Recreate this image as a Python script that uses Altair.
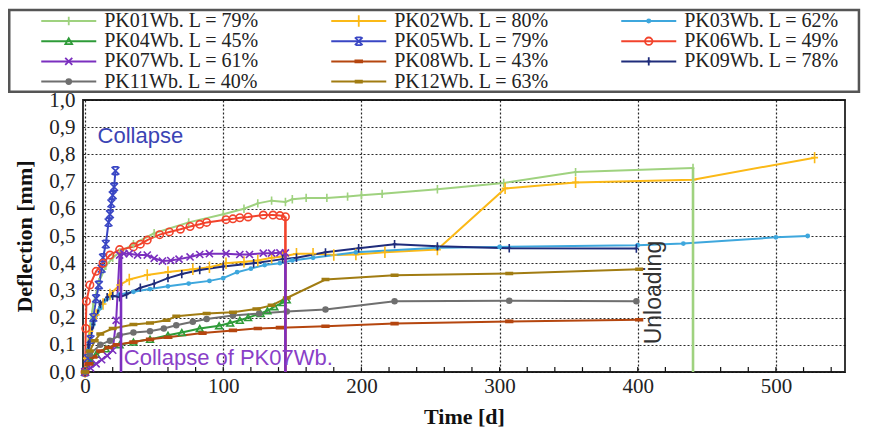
import altair as alt
import pandas as pd

# ---------------- data ----------------
keys = ["PK01", "PK02", "PK03", "PK04", "PK05", "PK06", "PK07", "PK08", "PK09", "PK11", "PK12"]
labels = ["PK01Wb. L = 79%", "PK02Wb. L = 80%", "PK03Wb. L = 62%",
          "PK04Wb. L = 45%", "PK05Wb. L = 79%", "PK06Wb. L = 49%",
          "PK07Wb. L = 61%", "PK08Wb. L = 43%", "PK09Wb. L = 78%",
          "PK11Wb. L = 40%", "PK12Wb. L = 63%"]
colors = ["#9fd27f", "#fbb917", "#3ea7dd", "#2e9b38", "#3946c4", "#f2432c",
          "#7b2fbf", "#b5460f", "#1f2c7b", "#6f6f6f", "#a17c12"]

pk01_t = [0, 3, 6, 10, 15, 20, 25, 35, 50, 75, 100, 115, 125, 135, 145, 150, 160, 175, 190, 200, 215, 255, 303, 355, 440]
pk01_d = [0, 0.15, 0.25, 0.33, 0.39, 0.42, 0.44, 0.47, 0.51, 0.55, 0.58, 0.60, 0.62, 0.63, 0.625, 0.635, 0.64, 0.64, 0.645, 0.65, 0.655, 0.672, 0.695, 0.735, 0.75]

pk02_t = [0, 1, 3.5, 8, 13, 18, 25, 32, 45, 60, 78, 90, 102, 115, 125, 135, 143, 153, 165, 180, 196, 217, 255, 304, 355, 440, 528]
pk02_d = [0, 0.05, 0.15, 0.21, 0.25, 0.285, 0.32, 0.34, 0.357, 0.368, 0.378, 0.385, 0.40, 0.405, 0.41, 0.42, 0.425, 0.435, 0.435, 0.43, 0.432, 0.44, 0.45, 0.675, 0.697, 0.707, 0.788]

pk03_t = [0, 2, 6, 11, 16, 25, 35, 47, 60, 75, 90, 100, 110, 120, 130, 141, 150, 165, 196, 255, 300, 400, 433, 500, 523]
pk03_d = [0, 0.08, 0.175, 0.235, 0.27, 0.285, 0.295, 0.305, 0.315, 0.325, 0.335, 0.345, 0.367, 0.38, 0.393, 0.40, 0.41, 0.42, 0.44, 0.457, 0.46, 0.466, 0.472, 0.495, 0.50]

pk04_t = [0, 4, 8, 15, 25, 35, 47, 60, 70, 83, 97, 105, 112, 118, 127, 132, 137, 143, 146]
pk04_d = [0, 0.04, 0.065, 0.085, 0.10, 0.11, 0.12, 0.135, 0.145, 0.16, 0.17, 0.18, 0.19, 0.20, 0.215, 0.225, 0.24, 0.255, 0.265]

pk05_t = [0, 2, 4, 6, 8, 10, 12, 13, 15, 17, 18, 19, 20, 21, 22]
pk05_d = [0, 0.05, 0.12, 0.20, 0.27, 0.32, 0.38, 0.42, 0.47, 0.55, 0.58, 0.62, 0.65, 0.68, 0.74]

pk06_t = [0, 0.5, 1, 3.5, 8, 13, 18, 25, 35, 40, 45, 54, 61, 69, 76, 83, 88, 102, 107, 112, 118, 129, 136, 141, 145]
pk06_d = [0, 0.16, 0.26, 0.32, 0.37, 0.40, 0.43, 0.45, 0.46, 0.47, 0.485, 0.505, 0.515, 0.525, 0.535, 0.543, 0.55, 0.56, 0.563, 0.567, 0.57, 0.577, 0.577, 0.575, 0.571]

pk07_t = [0, 4, 8, 12, 16, 20, 22.5, 25, 28, 32, 38, 45, 50, 56, 62, 68, 76, 83, 90, 102, 112, 119, 129, 135, 141, 145]
pk07_d = [0, 0.015, 0.03, 0.045, 0.06, 0.08, 0.19, 0.43, 0.435, 0.435, 0.43, 0.43, 0.418, 0.408, 0.41, 0.415, 0.423, 0.432, 0.435, 0.435, 0.432, 0.432, 0.437, 0.437, 0.438, 0.438]

pk08_t = [0, 3, 6, 11, 17, 23, 35, 47, 60, 85, 107, 125, 141, 174, 224, 307, 401]
pk08_d = [0, 0.03, 0.055, 0.077, 0.09, 0.10, 0.11, 0.12, 0.128, 0.143, 0.153, 0.16, 0.163, 0.168, 0.178, 0.186, 0.192]

pk09_t = [0, 2.5, 6, 11, 16, 20, 25, 30, 40, 50, 60, 70, 83, 100, 122, 143, 153, 174, 198, 224, 255, 307, 399]
pk09_d = [0, 0.10, 0.175, 0.25, 0.275, 0.28, 0.275, 0.285, 0.31, 0.325, 0.345, 0.36, 0.375, 0.388, 0.40, 0.415, 0.42, 0.44, 0.455, 0.47, 0.462, 0.455, 0.454]

pk11_t = [0, 3.5, 11, 18, 25, 35, 47, 57, 66, 78, 88, 107, 126, 146, 174, 224, 307, 399]
pk11_d = [0, 0.065, 0.10, 0.115, 0.135, 0.145, 0.15, 0.16, 0.172, 0.185, 0.195, 0.208, 0.215, 0.222, 0.23, 0.26, 0.262, 0.26]

pk12_t = [0, 3.5, 7, 11, 20, 35, 47, 59, 66, 88, 107, 124, 135, 146, 174, 224, 307, 401]
pk12_d = [0, 0.077, 0.115, 0.14, 0.16, 0.175, 0.18, 0.19, 0.205, 0.215, 0.22, 0.232, 0.245, 0.272, 0.34, 0.356, 0.362, 0.378]

series_t = [pk01_t, pk02_t, pk03_t, pk04_t, pk05_t, pk06_t, pk07_t, pk08_t, pk09_t, pk11_t, pk12_t]
series_d = [pk01_d, pk02_d, pk03_d, pk04_d, pk05_d, pk06_d, pk07_d, pk08_d, pk09_d, pk11_d, pk12_d]

# vertical drops (unloading / collapse lines)
drop_key = ["PK01", "PK06", "PK07", "PK07"]
drop_t = [440, 145, 145, 26]
drop_top = [0.75, 0.571, 0.438, 0.435]

x_ticks = [0, 100, 200, 300, 400, 500]
x_minor = [0, 20, 40, 60, 80, 100, 120, 140, 160, 180, 200, 220, 240, 260, 280, 300,
           320, 340, 360, 380, 400, 420, 440, 460, 480, 500, 520, 540]
y_ticks = [0.0, 0.1, 0.2, 0.3, 0.4, 0.5, 0.6, 0.7, 0.8, 0.9, 1.0]

# marker styling
shapes = ["M0,-1V1M-0.35,0H0.35", "M0,-1V1M-0.6,0H0.6", "circle", "triangle-up",
          "M-1,-1L1,1M-1,1L1,-1M-0.7,-1H0.7M-0.7,1H0.7", "circle",
          "M-1,-1L1,1M-1,1L1,-1", "M-1,-0.3H1V0.3H-1Z", "M0,-1V1M-0.45,0H0.45",
          "circle", "M-1,-0.3H1V0.3H-1Z"]
fills = ["transparent", "transparent", colors[2], "transparent", colors[4], "transparent",
         "transparent", colors[7], "transparent", colors[9], colors[10]]
sizes = [70, 130, 10, 45, 60, 55, 50, 45, 70, 24, 40]
size_of = dict(zip(keys, sizes))

# ---------------- frames ----------------
rows = []
for k, ts, ds in zip(keys, series_t, series_d):
    for i, (t, d) in enumerate(zip(ts, ds)):
        rows.append({"s": k, "t": t, "d": d, "i": i, "sz": size_of[k]})
df = pd.DataFrame(rows)

drops = pd.DataFrame({"s": drop_key, "t": drop_t, "d": [0] * len(drop_t), "d2": drop_top})
minor = pd.DataFrame({"t": x_minor, "d": [0] * len(x_minor), "d2": [0.018] * len(x_minor)})

color_sc = alt.Scale(domain=keys, range=colors)
stroke_sc = alt.Scale(domain=keys, range=colors)
fill_sc = alt.Scale(domain=keys, range=fills)
shape_sc = alt.Scale(domain=keys, range=shapes)

SERIF = "Liberation Serif"
SANS = "Liberation Sans"

xsc = alt.Scale(domain=[-1.5, 550], nice=False, zero=False)
ysc = alt.Scale(domain=[0, 1], nice=False)

X = alt.X("t:Q", scale=xsc, title="Time [d]",
          axis=alt.Axis(values=x_ticks, format="d", labelPadding=3, titlePadding=10,
                        labelFont=SERIF, titleFont=SERIF))
Y = alt.Y("d:Q", scale=ysc, title="Deflection [mm]",
          axis=alt.Axis(values=y_ticks,
                        labelExpr="replace(format(datum.value, '.1f'), '.', ',')",
                        labelPadding=8, titlePadding=12, labelFont=SERIF, titleFont=SERIF))

minor_layer = alt.Chart(minor).mark_rule(color="#111", strokeWidth=1.2).encode(
    x=X, y=Y, y2="d2:Q")

lines = alt.Chart(df).mark_line(strokeWidth=2).encode(
    x=X, y=Y,
    color=alt.Color("s:N", scale=color_sc, legend=None),
    detail="s:N", order="i:Q")

points = alt.Chart(df).mark_point(filled=False, strokeWidth=1.6, opacity=1).encode(
    x=X, y=Y,
    stroke=alt.Stroke("s:N", scale=stroke_sc, legend=None),
    fill=alt.Fill("s:N", scale=fill_sc, legend=None),
    shape=alt.Shape("s:N", scale=shape_sc, legend=None),
    size=alt.Size("sz:Q", scale=None, legend=None))

drop_layer = alt.Chart(drops).mark_rule(strokeWidth=2.6).encode(
    x=X, y=Y, y2="d2:Q",
    color=alt.Color("s:N", scale=color_sc, legend=None))

ann1 = alt.Chart(pd.DataFrame({"t": [9], "d": [0.868], "txt": ["Collapse"]})).mark_text(
    align="left", baseline="middle", font=SANS, fontSize=22, color="#3b44b4"
).encode(x=X, y=Y, text="txt:N")
ann2 = alt.Chart(pd.DataFrame({"t": [28], "d": [0.05], "txt": ["Collapse of PK07Wb."]})).mark_text(
    align="left", baseline="middle", font=SANS, fontSize=22, color="#8a3fc8"
).encode(x=X, y=Y, text="txt:N")
ann3 = alt.Chart(pd.DataFrame({"t": [412], "d": [0.292], "txt": ["Unloading"]})).mark_text(
    align="center", baseline="middle", angle=270, font=SANS, fontSize=23, color="#333333"
).encode(x=X, y=Y, text="txt:N")

main = alt.layer(minor_layer, lines, points, drop_layer, ann1, ann2, ann3)

# ---------------- legend (drawn above the plot with its own scales) ----------------
leg = pd.DataFrame({"s": keys, "label": labels,
                    "col": [i % 3 for i in range(len(keys))],
                    "row": [i // 3 for i in range(len(keys))],
                    "sz": sizes})
box = pd.DataFrame({"col": [0], "col2": [2.93], "row": [-0.55], "row2": [3.5]})

LX = alt.X("col:Q", axis=None, scale=alt.Scale(domain=[0, 3], range=[-73.75, 796.25], nice=False, zero=False))
LY = alt.Y("row:Q", axis=None, scale=alt.Scale(domain=[0, 3], range=[-79, -18.4], nice=False, zero=False))

leg_box = alt.Chart(box).mark_rect(fill="white", stroke="#555555", strokeWidth=2.5).encode(
    x=LX, x2="col2:Q", y=LY, y2="row2:Q")
leg_line = alt.Chart(leg).mark_rule(strokeWidth=2, xOffset=32, x2Offset=87).encode(
    x=LX, x2="col:Q", y=LY, color=alt.Color("s:N", scale=color_sc, legend=None))
leg_pt = alt.Chart(leg).mark_point(filled=False, strokeWidth=1.8, opacity=1, xOffset=59.5).encode(
    x=LX, y=LY,
    stroke=alt.Stroke("s:N", scale=stroke_sc, legend=None),
    fill=alt.Fill("s:N", scale=fill_sc, legend=None),
    shape=alt.Shape("s:N", scale=shape_sc, legend=None),
    size=alt.Size("sz:Q", scale=None, legend=None))
leg_txt = alt.Chart(leg).mark_text(align="left", baseline="middle", xOffset=95,
                                   font=SERIF, fontSize=20, color="#222222").encode(
    x=LX, y=LY, text="label:N")

legend = alt.layer(leg_box, leg_line, leg_pt, leg_txt)

chart = alt.layer(main, legend).resolve_scale(x="independent", y="independent").properties(
    width=762, height=272, padding=0,
    view=alt.ViewBackground(stroke="#222222", strokeWidth=1.8)
).configure_axis(
    grid=True, gridColor="#111111", gridDash=[2, 2], gridWidth=1.2, gridOpacity=0.9,
    domain=False, ticks=False,
    labelFont=SERIF, labelFontSize=21, labelColor="#222222",
    titleFont=SERIF, titleFontSize=22, titleFontWeight="bold", titleColor="#111111"
)

chart.save("out.html", embed_options={"renderer": "svg", "actions": False})
